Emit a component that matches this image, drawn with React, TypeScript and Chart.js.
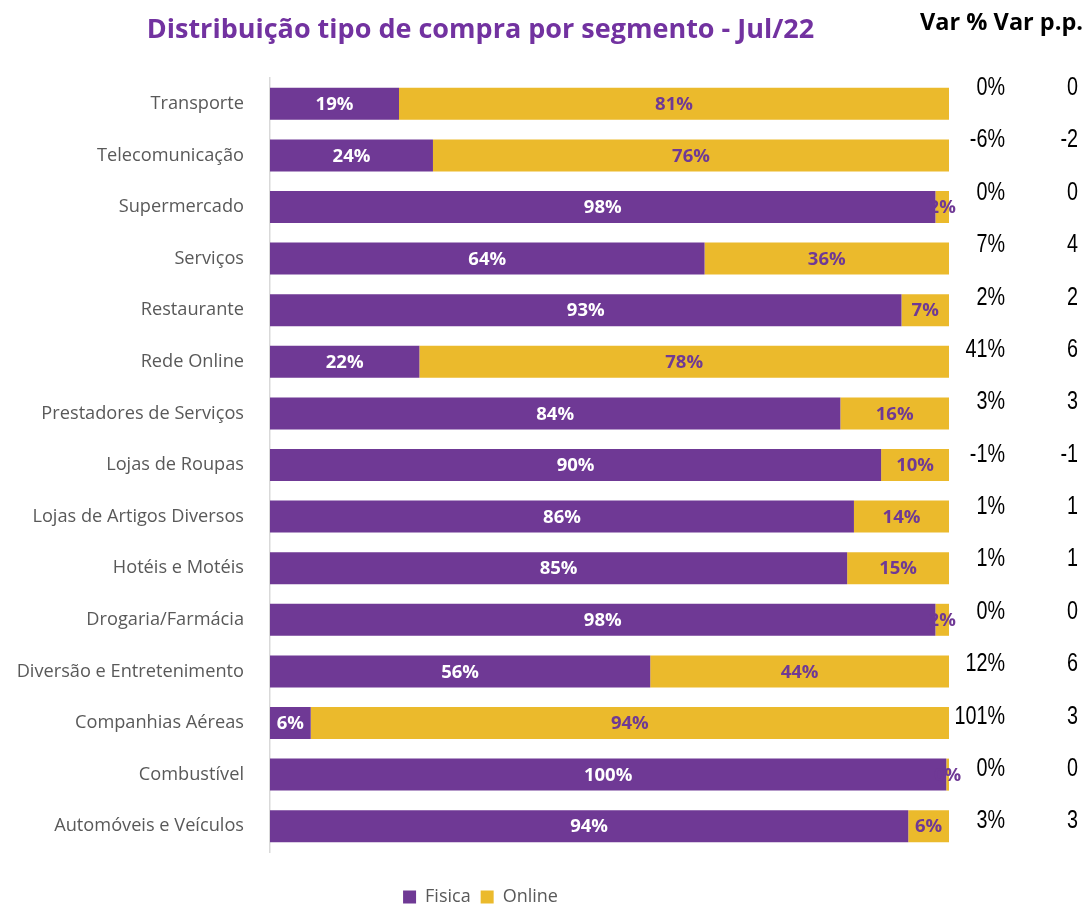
import React, { useEffect, useRef } from "react";
import { Chart, registerables } from "chart.js";

Chart.register(...registerables);

const categories = [
  "Transporte",
  "Telecomunicação",
  "Supermercado",
  "Serviços",
  "Restaurante",
  "Rede Online",
  "Prestadores de Serviços",
  "Lojas de Roupas",
  "Lojas de Artigos Diversos",
  "Hotéis e Motéis",
  "Drogaria/Farmácia",
  "Diversão e Entretenimento",
  "Companhias Aéreas",
  "Combustível",
  "Automóveis e Veículos",
];
const fisica = [19, 24, 98, 64, 93, 22, 84, 90, 86, 85, 98, 56, 6, 99.6, 94];
const online = [81, 76, 2, 36, 7, 78, 16, 10, 14, 15, 2, 44, 94, 0.4, 6];
const varPct = ["0%", "-6%", "0%", "7%", "2%", "41%", "3%", "-1%", "1%", "1%", "0%", "12%", "101%", "0%", "3%"];
const varPP = ["0", "-2", "0", "4", "2", "6", "3", "-1", "1", "1", "0", "6", "3", "0", "3"];

const PURPLE = "#6f3995";
const YELLOW = "#ebba2c";
const TITLE_PURPLE = "#7232a0";
const FONT = "'Open Sans', 'Noto Sans', sans-serif";
const ARIAL = "'Liberation Sans', Arial, sans-serif";

const barLabels = {
  id: "barLabels",
  afterDatasetsDraw(chart: any) {
    const ctx = chart.ctx;
    ctx.save();
    ctx.font = `bold 18.5px ${FONT}`;
    ctx.textAlign = "center";
    ctx.textBaseline = "middle";
    chart.data.datasets.forEach((ds: any, di: number) => {
      const meta = chart.getDatasetMeta(di);
      meta.data.forEach((bar: any, i: number) => {
        const v = ds.data[i];
        const cx = (bar.x + bar.base) / 2;
        ctx.fillStyle = di === 0 ? "#ffffff" : PURPLE;
        ctx.fillText(Math.round(v) + "%", cx, bar.y + 1);
      });
    });
    ctx.restore();
  },
};

function narrowText(ctx: any, text: string, rightX: number, y: number) {
  const sx = 0.76;
  ctx.save();
  ctx.translate(rightX, y);
  ctx.scale(sx, 1);
  ctx.textAlign = "right";
  ctx.fillText(text, 0, 0);
  ctx.restore();
}

const varColumns = {
  id: "varColumns",
  afterDraw(chart: any) {
    const ctx = chart.ctx;
    const y = chart.scales.y;
    ctx.save();
    ctx.fillStyle = "#000000";
    ctx.textBaseline = "middle";
    ctx.font = `bold 23.5px ${FONT}`;
    ctx.textAlign = "right";
    ctx.fillText("Var % Var p.p.", 1083, 23);
    ctx.font = `26px ${ARIAL}`;
    const n = categories.length;
    categories.forEach((_, i) => {
      const off = -16 + (11 * i) / (n - 1);
      const py = y.getPixelForValue(i) + off;
      narrowText(ctx, varPct[i], 1005, py);
      narrowText(ctx, varPP[i], 1078, py);
    });
    ctx.restore();
  },
};

export default function App() {
  const ref = useRef<HTMLCanvasElement | null>(null);
  useEffect(() => {
    if (!ref.current) return;
    const chart = new Chart(ref.current, {
      type: "bar",
      data: {
        labels: categories,
        datasets: [
          { label: "Fisica", data: fisica, backgroundColor: PURPLE, barPercentage: 0.62, categoryPercentage: 1 },
          { label: "Online", data: online, backgroundColor: YELLOW, barPercentage: 0.62, categoryPercentage: 1 },
        ],
      },
      options: {
        indexAxis: "y",
        animation: false,
        responsive: true,
        maintainAspectRatio: false,
        layout: { padding: { left: 12, right: 135, top: 0, bottom: -10 } },
        scales: {
          x: {
            stacked: true,
            min: 0,
            max: 100,
            display: true,
            ticks: { display: false },
            grid: { display: false, drawTicks: false },
            border: { display: false },
            afterFit: (s: any) => {
              s.height = 26;
            },
          },
          y: {
            stacked: true,
            grid: { display: false, drawTicks: false },
            border: { display: true, color: "#d9d9d9", width: 1.5 },
            ticks: { color: "#595959", font: { family: FONT, size: 18.2 }, padding: 26 },
            afterFit: (s: any) => {
              s.width = 258;
            },
          },
        },
        plugins: {
          title: {
            display: true,
            text: "Distribuição tipo de compra por segmento - Jul/22",
            color: TITLE_PURPLE,
            font: { family: FONT, size: 27, weight: "bold" },
            padding: { top: 14, bottom: 31.6 },
          },
          legend: {
            position: "bottom",
            labels: {
              color: "#595959",
              font: { family: FONT, size: 18 },
              boxWidth: 13,
              boxHeight: 13,
              padding: 10,
            },
          },
          tooltip: { enabled: false },
        },
      },
      plugins: [barLabels, varColumns],
    });
    return () => chart.destroy();
  }, []);
  return (
    <div style={{ position: "absolute", left: 0, top: 0, width: 1084, height: 906 }}>
      <canvas ref={ref} />
    </div>
  );
}
